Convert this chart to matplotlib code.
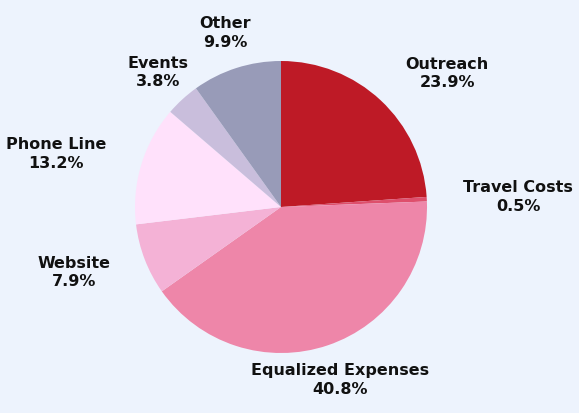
import numpy as np
import matplotlib
matplotlib.use("Agg")
import matplotlib.pyplot as plt

BG, INK = "#edf3fd", "#111111"

categories = ["Outreach", "Travel Costs", "Equalized Expenses", "Website",
              "Phone Line", "Events", "Other"]
shares = [23.9, 0.5, 40.8, 7.9, 13.2, 3.8, 9.9]
colors = ["#be1a26", "#de4f6c", "#ee86a9", "#f4b2d6",
          "#ffe1fb", "#c9bedc", "#989bb8"]

plt.rcParams["font.family"] = ["DejaVu Sans"]

W, H = 579, 413
fig = plt.figure(figsize=(W / 100, H / 100), dpi=100, facecolor=BG)
ax = fig.add_axes([0, 0, 1, 1])
ax.set_facecolor(BG)

wedges, _ = ax.pie(shares, colors=colors, startangle=90, counterclock=False,
                   radius=1, wedgeprops=dict(linewidth=0))

# pie centre / radius in pixels, used only to frame the axes
cx, cy, R = 281, 207, 146
ax.set_xlim(-cx / R, (W - cx) / R)
ax.set_ylim(-(H - cy) / R, cy / R)
ax.set_aspect("equal")
ax.axis("off")

for w, cat, v in zip(wedges, categories, shares):
    mid = np.deg2rad((w.theta1 + w.theta2) / 2)
    c, s = np.cos(mid), np.sin(mid)
    r = 1.25
    ha = "left" if c > 0.6 else ("right" if c < -0.7 else "center")
    ax.text(r * c, r * s, f"{cat}\n{v}%", ha=ha, va="center",
            multialignment="center", fontsize=11.5, fontweight="bold",
            color=INK, linespacing=1.3)

fig.savefig("out.png", dpi=100, facecolor=BG)
